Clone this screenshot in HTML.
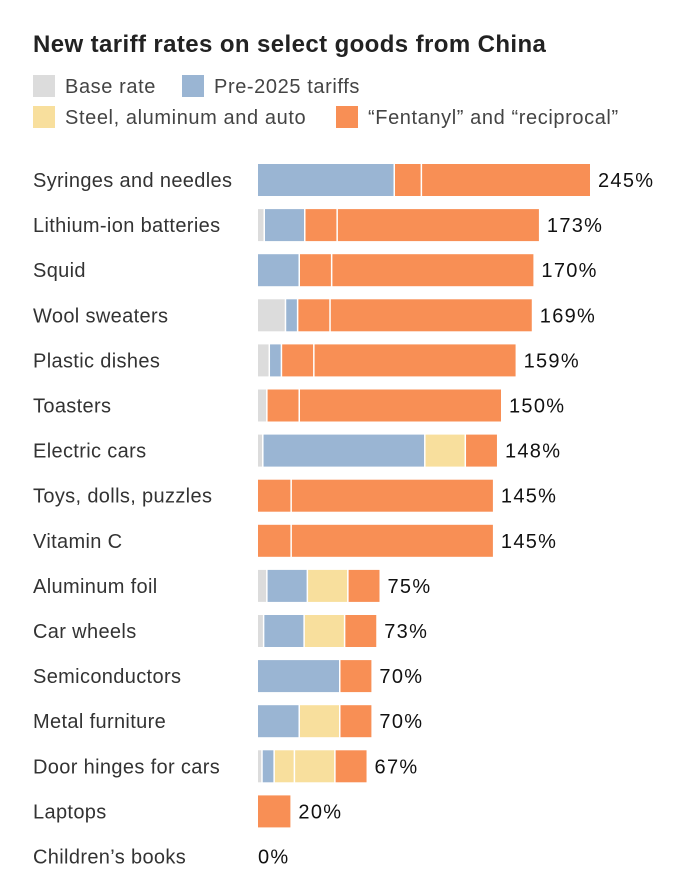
<!DOCTYPE html>
<html><head><meta charset="utf-8"><style>
body{margin:0;background:#fff;width:690px;height:889px;overflow:hidden;font-family:"Liberation Sans",sans-serif}
</style></head><body>
<svg id="chart" width="690" height="889" xmlns="http://www.w3.org/2000/svg">
<text x="33" y="52" font-size="24" letter-spacing="0.4" font-weight="bold" fill="#222" font-family="Liberation Sans, sans-serif">New tariff rates on select goods from China</text>
<g font-size="20" letter-spacing="0.6" fill="#444" font-family="Liberation Sans, sans-serif">
<g><rect x="33" y="75" width="22" height="22" fill="#dcdcdc"/><text x="65" y="93">Base rate</text></g>
<g><rect x="182" y="75" width="22" height="22" fill="#9ab5d3"/><text x="214" y="93">Pre-2025 tariffs</text></g>
<g><rect x="33" y="106" width="22" height="22" fill="#f8df9d"/><text x="65" y="124">Steel, aluminum and auto</text></g>
<g><rect x="336" y="106" width="22" height="22" fill="#f88f55"/><text x="368" y="124">“Fentanyl” and “reciprocal”</text></g>
</g>
<g id="rows"></g>
</svg>
<script>
const categories=["Syringes and needles","Lithium-ion batteries","Squid","Wool sweaters","Plastic dishes","Toasters","Electric cars","Toys, dolls, puzzles","Vitamin C","Aluminum foil","Car wheels","Semiconductors","Metal furniture","Door hinges for cars","Laptops","Children’s books"];
const baseRate=[0,3.4,0,16.5,6.5,5,2.5,0,0,5,3,0,0,2,0,0];
const pre2025=[100,25,25,7.5,7.5,0,100,0,0,25,25,50,25,7.5,0,0];
const steelA=[0,0,0,0,0,0,25,0,0,25,25,0,25,12.5,0,0];
const steelB=[0,0,0,0,0,0,0,0,0,0,0,0,0,25,0,0];
const fentanyl=[20,20,20,20,20,20,20,20,20,20,20,20,20,20,20,0];
const reciprocal=[125,125,125,125,125,125,0,125,125,0,0,0,0,0,0,0];
const series=[[baseRate,"#dcdcdc","base"],[pre2025,"#9ab5d3","pre2025"],[steelA,"#f8df9d","steel"],[steelB,"#f8df9d","steel-extra"],[fentanyl,"#f88f55","fentanyl"],[reciprocal,"#f88f55","reciprocal"]];
const NS="http://www.w3.org/2000/svg";
const g=document.getElementById("rows");
const x0=258,pxPer=1.62,maxW=332,rowY0=180,rowStep=45.1,barH=32;
categories.forEach((name,i)=>{
  const cy=rowY0+i*rowStep;
  const total=series.reduce((s,a)=>s+a[0][i],0);
  const k=total*pxPer>maxW?maxW/total:pxPer;
  const lab=document.createElementNS(NS,"text");
  
  
  lab.setAttribute("x",33);lab.setAttribute("y",cy+7);lab.setAttribute("font-size","20");lab.setAttribute("letter-spacing","0.35");lab.setAttribute("fill","#333");
  lab.textContent=name;g.appendChild(lab);
  let x=x0,first=true;
  series.forEach(([arr,col,key])=>{
    const v=arr[i];if(!v)return;
    const w=v*k;
    const r=document.createElementNS(NS,"rect");
    
    
    const gap=first?0:1.5;
    r.setAttribute("x",x+gap);r.setAttribute("y",cy-barH/2);r.setAttribute("width",Math.max(w-gap,0.5));r.setAttribute("height",barH);r.setAttribute("fill",col);
    g.appendChild(r);x+=w;first=false;
  });
  const t=document.createElementNS(NS,"text");
  
  
  t.setAttribute("x",total?x+8:x0);t.setAttribute("y",cy+7);t.setAttribute("font-size","20");t.setAttribute("letter-spacing","1.3");t.setAttribute("fill","#111");
  t.textContent=Math.round(total)+"%";g.appendChild(t);
});
</script>
</body></html>
